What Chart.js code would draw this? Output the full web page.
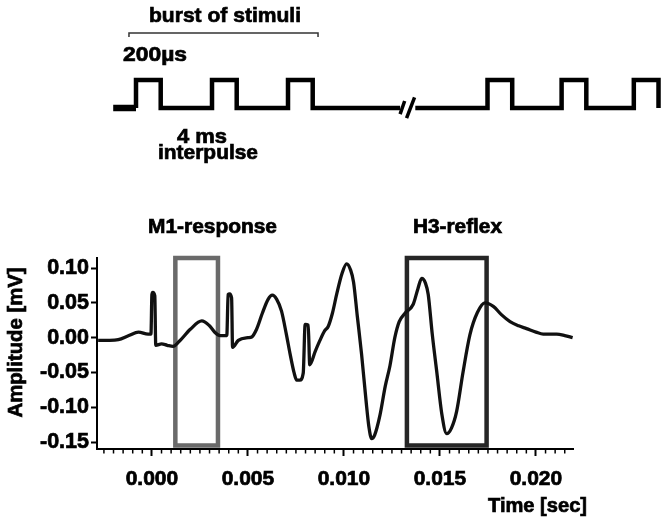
<!DOCTYPE html>
<html>
<head>
<meta charset="utf-8">
<script src="https://cdn.jsdelivr.net/npm/chart.js@4.4.1/dist/chart.umd.min.js"></script>
<style>
  html, body { margin: 0; padding: 0; background: #fff; }
  #wrap { position: relative; width: 672px; height: 525px; }
  canvas { position: absolute; left: 0; top: 0; }
</style>
</head>
<body>
<div id="wrap">
  <canvas id="trace" width="672" height="525"></canvas>
  <canvas id="stim" width="672" height="200"></canvas>
</div>
<script>
const timeSec = [
  -0.0028, -0.0022, -0.00175, -0.0012, -0.0007, -0.0002, -0.00005, 0.0, 0.00005, 0.00015,
  0.0002, 0.0005, 0.0008, 0.0011, 0.0014, 0.002, 0.0026, 0.003, 0.0033, 0.00355,
  0.0039, 0.00397, 0.00405, 0.00415, 0.0042, 0.0045, 0.005, 0.0052, 0.00545, 0.00575,
  0.00605, 0.00627, 0.0065, 0.00675, 0.007, 0.0072, 0.0074, 0.00754, 0.0077, 0.00788,
  0.00798, 0.00814, 0.00822, 0.0085, 0.00875, 0.009, 0.00918, 0.0094, 0.00962, 0.0099,
  0.01014, 0.01035, 0.0105, 0.0107, 0.01092, 0.01115, 0.0113, 0.01144, 0.0116, 0.01188,
  0.01215, 0.0124, 0.01265, 0.01288, 0.01318, 0.01361, 0.01385, 0.01405, 0.01425, 0.01439,
  0.0146, 0.01483, 0.0151, 0.01535, 0.0156, 0.01587, 0.0162, 0.01656, 0.01695, 0.01734,
  0.01778, 0.0182, 0.01865, 0.0191, 0.01951, 0.02, 0.02038, 0.02108, 0.0215, 0.02191
];
const amplitudeMv = [
  -0.004, -0.004, -0.003, 0.003, 0.008, 0.005, 0.005, 0.062, 0.065, 0.060,
  -0.011, -0.009, -0.011, -0.0125, -0.006, 0.012, 0.024, 0.017, 0.007, 0.003,
  0.003, 0.062, 0.063, 0.057, -0.014, -0.004, 0.000, 0.001, 0.012, 0.035,
  0.055, 0.061, 0.055, 0.038, 0.005, -0.024, -0.050, -0.061, -0.061, -0.051,
  0.019, 0.018, -0.039, -0.020, -0.004, 0.010, 0.016, 0.035, 0.062, 0.092,
  0.106, 0.097, 0.080, 0.030, -0.024, -0.090, -0.128, -0.145, -0.140, -0.111,
  -0.070, -0.040, 0.000, 0.023, 0.035, 0.048, 0.070, 0.085, 0.078, 0.062,
  0.005, -0.048, -0.110, -0.138, -0.130, -0.106, -0.050, 0.004, 0.036, 0.050,
  0.045, 0.033, 0.023, 0.017, 0.013, 0.008, 0.005, 0.005, 0.003, 0.000
];
const xTickLabels = ['0.000', '0.005', '0.010', '0.015', '0.020'];
const yTickValues = [-0.15, -0.10, -0.05, 0.00, 0.05, 0.10];
const xMinorStep = 0.0005;

// analysis windows (s) and their vertical extent (mV)
const m1Window = [0.00122, 0.00344];
const h3Window = [0.01328, 0.01743];
const windowSpan = [-0.155, 0.1145];

// stimulation schematic, arbitrary units (not to scale)
const burst1Onsets = [0, 4.0, 8.0];
const burst2Onsets = [18.5, 22.4, 26.2];
const pulseWidth = 1.3;
const trainStart = -1.2;
const breakGap = [13.9, 14.7];
const bracketSpan = [-0.37, 9.58];
const bracketLevel = [2.54, 2.68];

const FONT = '"Liberation Sans", Arial, sans-serif';
const xMajor = xTickLabels.map(Number);
const isMajor = v => xMajor.some(m => Math.abs(m - v) < 1e-9);

function label(ctx, str, x, y, size, align, width, rotate) {
  ctx.save();
  ctx.font = 'bold ' + size + 'px ' + FONT;
  ctx.fillStyle = '#000';
  ctx.strokeStyle = '#000';
  ctx.lineWidth = 0.7;
  ctx.textBaseline = 'alphabetic';
  ctx.textAlign = align;
  const sx = width ? width / ctx.measureText(str).width : 1;
  ctx.translate(x, y);
  if (rotate) ctx.rotate(-Math.PI / 2);
  ctx.scale(sx, 1);
  ctx.strokeText(str, 0, 0);
  ctx.fillText(str, 0, 0);
  ctx.restore();
}

function box(win) {
  const [a, b] = win, [lo, hi] = windowSpan;
  return [{x: a, y: lo}, {x: a, y: hi}, {x: b, y: hi}, {x: b, y: lo}, {x: a, y: lo}, {x: a, y: hi}];
}

const traceText = {
  id: 'traceText',
  afterDraw(chart) {
    const ctx = chart.ctx;
    const s = chart.scales.x;
    // minor ticks every 0.5 ms
    ctx.save();
    ctx.strokeStyle = '#000';
    ctx.lineWidth = 1.5;
    s.ticks.forEach(t => {
      if (isMajor(t.value)) return;
      const px = s.getPixelForValue(t.value);
      ctx.beginPath();
      ctx.moveTo(px, s.top);
      ctx.lineTo(px, s.top + 4.5);
      ctx.stroke();
    });
    ctx.restore();
    label(ctx, 'Amplitude [mV]', 21.5, 342.5, 20, 'center', 150, true);
    label(ctx, 'Time [sec]', 587, 512, 20, 'right', 99);
    label(ctx, 'M1-response', 212.5, 233, 19.5, 'center', 129);
    label(ctx, 'H3-reflex', 457.5, 233, 19.5, 'center', 89);
  }
};

let xTicks = [];
for (let v = -0.0025; v <= 0.02155; v += xMinorStep) xTicks.push(Math.round(v * 1e5) / 1e5);

const tickFont = size => ({ family: FONT, size: size, weight: 'bold' });

new Chart(document.getElementById('trace'), {
  type: 'line',
  data: {
    datasets: [
      {
        data: timeSec.map((t, i) => ({x: t, y: amplitudeMv[i]})),
        borderColor: '#111',
        borderWidth: 3.3,
        pointRadius: 0,
        cubicInterpolationMode: 'monotone'
      },
      {
        data: box(m1Window),
        borderColor: '#6a6a6a',
        borderWidth: 4.5,
        pointRadius: 0,
        tension: 0,
        clip: false,
        borderJoinStyle: 'miter'
      },
      {
        data: box(h3Window),
        borderColor: '#262626',
        borderWidth: 4.5,
        pointRadius: 0,
        tension: 0,
        clip: false,
        borderJoinStyle: 'miter'
      }
    ]
  },
  options: {
    responsive: false,
    animation: false,
    events: [],
    layout: { padding: { left: 0, right: 99, top: 258, bottom: 36 } },
    plugins: { legend: { display: false }, tooltip: { enabled: false } },
    scales: {
      x: {
        type: 'linear',
        min: -0.00286,
        max: 0.02193,
        afterBuildTicks: s => { s.ticks = xTicks.map(v => ({value: v})); },
        afterFit: s => { s.height = 40; },
        ticks: {
          autoSkip: false, maxRotation: 0, minRotation: 0, padding: 11, color: '#000',
          font: tickFont(21), textStrokeColor: '#000', textStrokeWidth: 0.7,
          callback: v => { const i = xMajor.findIndex(m => Math.abs(m - v) < 1e-9); return i < 0 ? '' : xTickLabels[i]; }
        },
        grid: {
          drawOnChartArea: false, tickLength: 7, tickWidth: 2,
          tickColor: c => (c.tick && isMajor(c.tick.value)) ? '#000' : 'rgba(0,0,0,0)'
        },
        border: { color: '#000', width: 2 }
      },
      y: {
        min: -0.160,
        max: 0.1144,
        afterBuildTicks: s => { s.ticks = yTickValues.map(v => ({value: v})); },
        afterFit: s => { s.width = 97; },
        ticks: {
          padding: 2, color: '#000',
          font: tickFont(21.5), textStrokeColor: '#000', textStrokeWidth: 0.7,
          callback: v => v.toFixed(2)
        },
        grid: { drawOnChartArea: false, tickLength: 6, tickWidth: 2, tickColor: '#000' },
        border: { color: '#000', width: 2 }
      }
    }
  },
  plugins: [traceText]
});

// stimulation schematic
function pulseTrain(start, onsets, end) {
  const pts = [{x: start, y: 0}];
  onsets.forEach(t => {
    pts.push({x: t, y: 0}, {x: t, y: 1}, {x: t + pulseWidth, y: 1}, {x: t + pulseWidth, y: 0});
  });
  if (end !== undefined) pts.push({x: end, y: 0});
  return pts;
}
const trainPts = pulseTrain(trainStart, burst1Onsets, breakGap[0])
  .concat([{x: (breakGap[0] + breakGap[1]) / 2, y: null}])
  .concat(pulseTrain(breakGap[1], burst2Onsets));
const breakMarks = [
  {x: breakGap[0], y: -0.22}, {x: breakGap[0] + 0.24, y: 0.25}, {x: breakGap[0] + 0.3, y: null},
  {x: breakGap[0] + 0.34, y: -0.36}, {x: breakGap[1] - 0.04, y: 0.38}
];
const bracket = [
  {x: bracketSpan[0], y: bracketLevel[0]}, {x: bracketSpan[0], y: bracketLevel[1]},
  {x: bracketSpan[1], y: bracketLevel[1]}, {x: bracketSpan[1], y: bracketLevel[0]}
];

const stimText = {
  id: 'stimText',
  afterDraw(chart) {
    const ctx = chart.ctx;
    label(ctx, 'burst of stimuli', 225, 22, 21, 'center', 152);
    label(ctx, '200µs', 123, 61, 20.5, 'left', 64);
    label(ctx, '4 ms', 202, 143, 20.5, 'center', 50);
    label(ctx, 'interpulse', 208, 159, 20.5, 'center', 100);
  }
};

new Chart(document.getElementById('stim'), {
  type: 'line',
  data: {
    datasets: [
      {
        data: trainPts, borderColor: '#000', pointRadius: 0, tension: 0, spanGaps: false,
        borderJoinStyle: 'miter', borderCapStyle: 'butt',
        segment: { borderWidth: c => c.p0DataIndex === 0 ? 6.5 : 4.5 }
      },
      { data: breakMarks, borderColor: '#000', borderWidth: 3.5, pointRadius: 0, tension: 0, spanGaps: false },
      { data: bracket, borderColor: '#333', borderWidth: 1.5, pointRadius: 0, tension: 0, borderJoinStyle: 'miter' }
    ]
  },
  options: {
    responsive: false,
    animation: false,
    events: [],
    layout: { padding: 0 },
    plugins: { legend: { display: false }, tooltip: { enabled: false } },
    scales: {
      x: { type: 'linear', display: false, min: -7.158, max: 28.21 },
      y: { display: false, min: -3.286, max: 3.857 }
    }
  },
  plugins: [stimText]
});
</script>
</body>
</html>
